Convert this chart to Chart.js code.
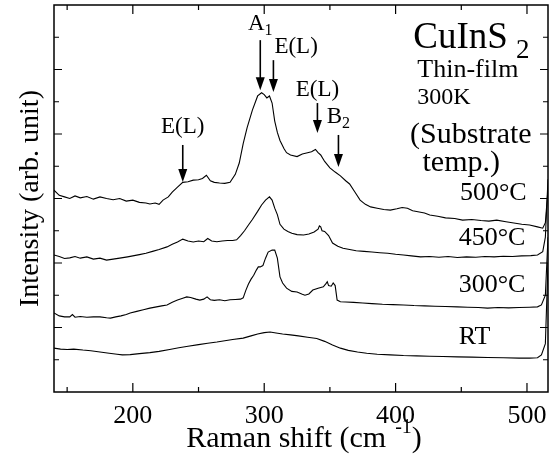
<!DOCTYPE html>
<html>
<head>
<meta charset="utf-8">
<script src="https://cdn.jsdelivr.net/npm/chart.js@4"></script>
<style>
  body { margin: 0; background: #fff; }
  canvas { display: block; }
</style>
</head>
<body>
<canvas id="ramanChart" width="553" height="458"></canvas>
<script>
// Raman shift (cm-1) and stacked intensity (arb.)
const shift500 = [140,144,148,152,156,160,165,170,175,180,185,190,195,200,205,210,213,217,220,223,227,230,234,238,242,246,250,253,256,259,262,266,270,274,278,281,284,287,291,295,298,300,302,304,306,308,310,312,315,317,320,325,329,333,336,339,341,343,346,350,354,358,362,365,369,373,377,381,386,391,396,401,405,409,413,418,422,426,432,438,445,451,458,465,471,477,484,490,496,502,508,512,514,516];
const int500 = [6.26,6.10,6.05,6.00,6.08,6.02,6.06,5.98,6.05,6.00,5.96,6.00,5.92,5.95,5.88,5.86,5.83,5.86,5.82,5.95,6.05,6.20,6.35,6.50,6.52,6.57,6.58,6.62,6.72,6.55,6.50,6.48,6.47,6.50,6.75,7.10,7.70,8.20,8.74,9.18,9.28,9.22,9.12,9.18,8.96,8.40,8.05,7.80,7.55,7.42,7.35,7.30,7.38,7.42,7.45,7.52,7.42,7.35,7.15,6.95,6.82,6.70,6.55,6.45,6.20,5.95,5.82,5.74,5.70,5.66,5.64,5.68,5.72,5.70,5.62,5.58,5.55,5.49,5.45,5.40,5.38,5.33,5.35,5.32,5.30,5.33,5.28,5.24,5.20,5.18,5.12,5.08,5.25,6.30];

const shift450 = [140,144,148,152,156,160,165,170,175,180,185,190,196,200,205,210,215,220,226,230,234,238,242,246,250,254,257,260,264,268,272,276,279,282,285,288,291,295,298,301,304,306,308,310,312,315,318,321,325,330,334,338,341,342,343,344,346,349,352,356,360,365,370,376,382,388,394,400,406,412,419,426,433,440,447,454,461,468,475,482,489,496,503,508,512,514,516];
const int450 = [4.25,4.20,4.14,4.16,4.20,4.15,4.19,4.12,4.15,4.09,4.12,4.15,4.19,4.22,4.26,4.30,4.36,4.42,4.50,4.58,4.65,4.74,4.68,4.65,4.68,4.66,4.76,4.68,4.66,4.68,4.70,4.70,4.72,4.85,5.00,5.18,5.35,5.60,5.80,5.95,6.05,5.95,5.70,5.50,5.20,5.05,4.98,4.92,4.88,4.87,4.90,4.96,5.05,5.15,5.12,5.00,4.98,4.85,4.62,4.52,4.46,4.42,4.38,4.36,4.34,4.32,4.30,4.27,4.25,4.22,4.19,4.20,4.18,4.20,4.17,4.19,4.18,4.20,4.19,4.21,4.20,4.22,4.23,4.25,4.35,4.80,6.60];

const shift300 = [140,144,148,152,154,156,160,165,170,175,180,183,187,191,195,198,203,208,213,218,222,226,230,234,238,241,244,248,251,254,256.5,259,262,266,270,274,278,282,284,286,288,290,292,294,295.5,297,299,301,303,306,308,310,312,314,317,321,325,329,331,334,337,341,345,347,348,349,351,352.5,354,355.5,358,362,368,375,382,390,398,406,414,422,430,438,447,455,463,470,478,486,494,502,508,511,514,516];
const int300 = [2.45,2.36,2.33,2.33,2.40,2.32,2.34,2.32,2.33,2.33,2.30,2.29,2.33,2.36,2.40,2.45,2.50,2.55,2.60,2.64,2.67,2.70,2.78,2.85,2.91,2.95,2.93,2.88,2.85,2.88,2.95,2.86,2.84,2.86,2.83,2.86,2.87,2.88,2.92,3.15,3.35,3.50,3.62,3.78,3.88,3.88,3.92,4.15,4.34,4.40,4.40,4.15,3.57,3.38,3.22,3.12,3.10,3.03,3.00,3.04,3.16,3.22,3.26,3.36,3.42,3.30,3.28,3.38,3.30,2.85,2.80,2.79,2.78,2.76,2.74,2.72,2.71,2.70,2.68,2.67,2.66,2.65,2.64,2.63,2.62,2.60,2.62,2.61,2.62,2.63,2.64,2.70,3.00,4.80];

const shiftRT = [140,145,150,155,162,168,175,182,188,192,198,205,213,220,228,235,242,250,257,264,270,276,284,290,295,300,304.5,309,314,320,326,333,340,346,352,358,364,371,378,386,396,406,416,426,436,447,458,470,482,494,502,508,511,514,516];
const intRT = [1.36,1.33,1.32,1.33,1.30,1.28,1.24,1.20,1.17,1.15,1.16,1.19,1.22,1.26,1.32,1.37,1.42,1.47,1.51,1.55,1.59,1.63,1.67,1.74,1.80,1.84,1.86,1.83,1.80,1.77,1.74,1.70,1.66,1.57,1.46,1.36,1.29,1.24,1.20,1.17,1.15,1.13,1.12,1.11,1.10,1.09,1.08,1.07,1.06,1.05,1.05,1.06,1.15,1.50,4.00];

const xTicks = [200, 300, 400, 500];
const xMinorTicks = [150, 250, 350, 450];
const yTicks = [1, 2, 3, 4, 5, 6, 7, 8, 9, 10, 11];

// mode markers: [label, subscript, shift, arrow top, arrow tip, label y]
const modeLabels = [
  ['E(L)', '', 238, 7.66, 6.51, 8.22],
  ['A', '1', 297, 10.91, 9.36, 11.41],
  ['E(L)', '', 307, 10.29, 9.30, 10.70],
  ['E(L)', '', 340.5, 8.96, 8.03, 9.36],
  ['B', '2', 356.5, 7.97, 6.98, 8.53]
];

// sample labels next to each curve: [text, shift, intensity]
const curveLabels = [
  ['500\u00b0C', 449, 6.17],
  ['450\u00b0C', 448, 4.78],
  ['300\u00b0C', 448, 3.32],
  ['RT', 448, 1.71]
];

const serif = '"Liberation Serif", "Times New Roman", serif';

function toPoints(xs, ys) {
  return xs.map((x, i) => ({ x: x, y: ys[i] }));
}

function lineSet(label, xs, ys) {
  return {
    label: label,
    data: toPoints(xs, ys),
    borderColor: '#000',
    borderWidth: 1.1,
    pointRadius: 0,
    tension: 0,
    fill: false
  };
}

function drawArrow(ctx, x, yTop, yTip) {
  ctx.beginPath();
  ctx.moveTo(x, yTop);
  ctx.lineTo(x, yTip - 10);
  ctx.lineWidth = 1.6;
  ctx.stroke();
  ctx.beginPath();
  ctx.moveTo(x - 4.5, yTip - 13);
  ctx.lineTo(x + 4.5, yTip - 13);
  ctx.lineTo(x, yTip);
  ctx.closePath();
  ctx.fill();
}

const annotate = {
  id: 'annotate',
  afterDraw(chart) {
    const ctx = chart.ctx;
    const area = chart.chartArea;
    const xs = chart.scales.x, ys = chart.scales.y;
    ctx.save();
    ctx.strokeStyle = '#000';
    ctx.fillStyle = '#000';

    // frame
    ctx.lineWidth = 1.5;
    ctx.strokeRect(area.left, area.top, area.right - area.left, area.bottom - area.top);

    // inward ticks
    ctx.lineWidth = 1.2;
    ctx.beginPath();
    xTicks.forEach(v => {
      const px = xs.getPixelForValue(v);
      ctx.moveTo(px, area.bottom); ctx.lineTo(px, area.bottom - 9);
      ctx.moveTo(px, area.top); ctx.lineTo(px, area.top + 9);
    });
    xMinorTicks.forEach(v => {
      const px = xs.getPixelForValue(v);
      ctx.moveTo(px, area.bottom); ctx.lineTo(px, area.bottom - 5);
      ctx.moveTo(px, area.top); ctx.lineTo(px, area.top + 5);
    });
    yTicks.forEach(v => {
      const py = ys.getPixelForValue(v);
      const len = v % 2 === 0 ? 8 : 5;
      ctx.moveTo(area.left, py); ctx.lineTo(area.left + len, py);
      ctx.moveTo(area.right, py); ctx.lineTo(area.right - len, py);
    });
    ctx.stroke();

    // x title with superscript
    ctx.textBaseline = 'alphabetic';
    ctx.textAlign = 'left';
    const main = 'Raman shift (cm';
    ctx.font = '30px ' + serif;
    const wMain = ctx.measureText(main).width;
    ctx.font = '20px ' + serif;
    const wSup = ctx.measureText('-1').width;
    ctx.font = '30px ' + serif;
    const wClose = ctx.measureText(')').width;
    const gap = 9;
    const total = wMain + gap + wSup + wClose;
    let tx = (area.left + area.right) / 2 + 3 - total / 2;
    const base = 447;
    ctx.fillText(main, tx, base);
    tx += wMain + gap;
    ctx.font = '20px ' + serif;
    ctx.fillText('-1', tx, base - 14);
    tx += wSup;
    ctx.font = '30px ' + serif;
    ctx.fillText(')', tx, base);

    // mode arrows and labels
    modeLabels.forEach(([txt, sub, sx, yTop, yTip, yLab]) => {
      const px = xs.getPixelForValue(sx);
      drawArrow(ctx, px, ys.getPixelForValue(yTop), ys.getPixelForValue(yTip));
      ctx.font = '23px ' + serif;
      ctx.textBaseline = 'middle';
      const w = ctx.measureText(txt).width;
      ctx.font = '16px ' + serif;
      const ws = sub ? ctx.measureText(sub).width : 0;
      const py = ys.getPixelForValue(yLab);
      let lx;
      if (sx === 307) lx = px + 1;           // second E(L) sits right of its arrow
      else lx = px - (w + ws) / 2;
      ctx.font = '23px ' + serif;
      ctx.textAlign = 'left';
      ctx.fillText(txt, lx, py);
      if (sub) {
        ctx.font = '16px ' + serif;
        ctx.fillText(sub, lx + w, py + 7);
      }
    });

    // sample text block
    ctx.textAlign = 'left';
    ctx.textBaseline = 'middle';
    const px = xs.getPixelForValue(413.5);
    const py = ys.getPixelForValue(10.98);
    ctx.font = '37px ' + serif;
    ctx.fillText('CuInS', px, py);
    const wc = ctx.measureText('CuInS').width;
    ctx.font = '27px ' + serif;
    ctx.fillText('2', px + wc + 8, py + 13);

    ctx.font = '26px ' + serif;
    ctx.fillText('Thin-film', xs.getPixelForValue(416.5), ys.getPixelForValue(9.98));
    ctx.font = '24px ' + serif;
    ctx.fillText('300K', xs.getPixelForValue(416.5), ys.getPixelForValue(9.12));
    ctx.font = '30px ' + serif;
    ctx.fillText('(Substrate', xs.getPixelForValue(411), ys.getPixelForValue(7.97));
    ctx.fillText('temp.)', xs.getPixelForValue(420.5), ys.getPixelForValue(7.10));

    ctx.font = '26px ' + serif;
    curveLabels.forEach(([txt, sx, sy]) => {
      ctx.fillText(txt, xs.getPixelForValue(sx), ys.getPixelForValue(sy));
    });

    ctx.restore();
  }
};

new Chart(document.getElementById('ramanChart').getContext('2d'), {
  type: 'line',
  data: {
    datasets: [
      lineSet('500', shift500, int500),
      lineSet('450', shift450, int450),
      lineSet('300', shift300, int300),
      lineSet('RT', shiftRT, intRT)
    ]
  },
  options: {
    responsive: false,
    animation: false,
    devicePixelRatio: 1,
    layout: { padding: { top: 5, right: 5, left: 0, bottom: 0 } },
    plugins: {
      legend: { display: false },
      tooltip: { enabled: false }
    },
    scales: {
      x: {
        type: 'linear',
        min: 140,
        max: 516,
        afterBuildTicks: s => { s.ticks = xTicks.map(v => ({ value: v })); },
        afterFit: s => { s.height = 66; },
        grid: { display: false },
        border: { display: false },
        ticks: {
          color: '#000',
          font: { family: serif, size: 26 },
          padding: 1,
          maxRotation: 0
        }
      },
      y: {
        min: 0,
        max: 12,
        afterFit: s => { s.width = 54; },
        grid: { display: false },
        border: { display: false },
        ticks: { display: false },
        title: {
          display: true,
          text: 'Intensity (arb. unit)',
          color: '#000',
          font: { family: serif, size: 28 },
          padding: { top: 14, bottom: 0 }
        }
      }
    }
  },
  plugins: [annotate]
});
</script>
</body>
</html>
